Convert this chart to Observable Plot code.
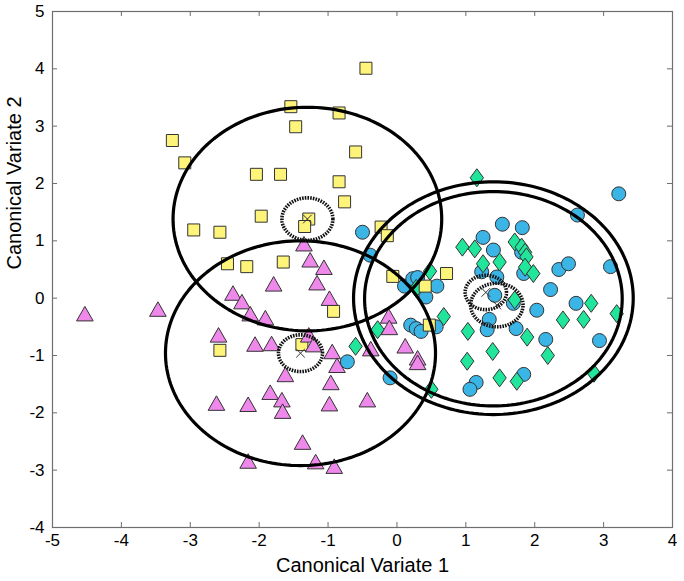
<!DOCTYPE html>
<html><head><meta charset="utf-8">
<script src="https://cdn.jsdelivr.net/npm/d3@7"></script>
<script src="https://cdn.jsdelivr.net/npm/@observablehq/plot@0.6"></script>
<style>body{margin:0;background:#fff}</style>
</head><body><div id="chart"></div>
<script>
// ---- data ----
const xTicks = [-5,-4,-3,-2,-1,0,1,2,3,4];
const yTicks = [-4,-3,-2,-1,0,1,2,3,4,5];
const xLabel = "Canonical Variate 1";
const yLabel = "Canonical Variate 2";

const squaresX = [-0.45,-1.54,-0.84,-1.47,-3.26,-3.08,-0.60,-2.04,-1.69,-0.84,-0.76,-1.97,-1.28,-1.34,-2.95,-2.57,-0.23,-0.14,-2.46,-2.18,-1.65,-2.57,-0.92,-0.06,0.41,0.72,0.47,-1.38];
const squaresY = [4.01,3.34,3.23,2.99,2.75,2.36,2.55,2.16,2.16,2.03,1.68,1.43,1.38,1.25,1.19,1.15,1.24,1.09,0.60,0.55,0.63,-0.91,-0.23,0.38,0.21,0.43,-0.47,-0.81];

const trianglesX = [-4.53,-3.47,-2.38,-2.25,-2.13,-1.79,-1.91,-2.59,-2.06,-1.82,-1.62,-1.84,-2.62,-2.16,-1.67,-1.66,-2.16,-1.35,-1.26,-1.06,-1.16,-0.98,-0.12,-0.11,-1.28,-1.21,-0.94,-0.38,0.12,0.30,0.30,-0.87,-0.96,-0.98,-0.43,-1.37,-1.18,-0.91];
const trianglesY = [-0.27,-0.19,0.09,-0.06,-0.27,0.25,-0.34,-0.64,-0.80,-0.79,-1.33,-1.64,-1.83,-1.85,-1.77,-1.97,-2.84,0.95,0.67,0.54,0.27,0.00,-0.31,-0.51,-0.64,-0.81,-0.93,-0.88,-0.83,-1.04,-1.12,-1.17,-1.47,-1.84,-1.77,-2.51,-2.85,-2.93];

const circlesX = [-0.50,-0.39,0.11,0.23,0.30,0.42,0.58,0.20,0.28,0.35,0.57,-0.72,-0.10,3.22,2.62,1.53,1.82,1.25,1.40,1.81,1.84,2.35,2.49,3.10,1.23,1.45,2.23,1.42,1.69,2.03,2.60,1.34,1.31,1.73,2.16,2.94,1.84,1.15,1.06];
const circlesY = [1.15,0.75,0.21,0.34,0.36,0.02,0.21,-0.47,-0.53,-0.58,-0.50,-1.11,-1.39,1.82,1.45,1.29,1.23,1.06,0.84,0.80,0.43,0.50,0.60,0.55,0.46,0.37,0.15,0.05,-0.09,-0.21,-0.09,-0.37,-0.55,-0.53,-0.72,-0.74,-1.33,-1.47,-1.59];

const diamondsX = [0.48,0.28,0.68,-0.28,-0.60,0.50,1.16,0.95,1.13,1.71,1.81,1.86,1.88,1.25,1.49,1.86,1.98,1.71,2.82,3.19,2.41,2.71,1.03,1.89,1.39,2.19,1.02,1.49,1.74,2.86];
const diamondsY = [0.47,0.17,-0.32,-0.55,-0.84,-1.59,2.10,0.89,0.86,0.98,0.89,0.80,0.72,0.60,0.63,0.54,0.43,-0.03,-0.09,-0.27,-0.38,-0.37,-0.58,-0.68,-0.93,-1.00,-1.10,-1.39,-1.45,-1.31];

// group means (x markers) and their dotted confidence circles
const meanX = [-1.30,-1.40,1.29,1.45];
const meanY = [1.38,-0.96,0.10,-0.12];
const meanR = [0.37,0.32,0.30,0.38];
// large solid circles
const bigX = [-1.30,-1.40,1.40,1.40];
const bigY = [1.38,-0.96,0.00,-0.01];
const bigR = [1.95,1.96,2.03,1.87];

// ---- build tables ----
const pts = (xs, ys) => xs.map((x,i)=>({x, y: ys[i]}));
const circlePath = (cx, cy, r, id) => d3.range(0, 361, 2).map(a => ({
  id, x: cx + r*Math.cos(a*Math.PI/180), y: cy + r*Math.sin(a*Math.PI/180)}));
const bigCircles = bigX.flatMap((cx,i)=>circlePath(cx, bigY[i], bigR[i], i));
const meanCircles = meanX.flatMap((cx,i)=>circlePath(cx, meanY[i], meanR[i], i));

// ---- marker shapes (MATLAB-like) ----
const sq = {draw(c, s){const r=Math.sqrt(s/Math.PI); c.rect(-r,-r,2*r,2*r);}};
const tri = {draw(c, s){const r=Math.sqrt(s/Math.PI); c.moveTo(0,-0.875*r); c.lineTo(r,0.875*r); c.lineTo(-r,0.875*r); c.closePath();}};
const dia = {draw(c, s){const r=Math.sqrt(s/Math.PI); c.moveTo(0,-r); c.lineTo(0.74*r,0); c.lineTo(0,r); c.lineTo(-0.74*r,0); c.closePath();}};

const W = 684, H = 581, mL = 52, mR = 12, mT = 11, mB = 54;
const innerW = W - mL - mR, innerH = H - mT - mB;
const fmt = d => (d < 0 ? "-" + (-d) : String(d));
const edge = "#6e6e6e";
const mk = {stroke:"#333", strokeWidth:1};

const chart = Plot.plot({
  width: W, height: H,
  marginLeft: mL, marginRight: mR, marginTop: mT, marginBottom: mB,
  style: {fontFamily: "'Liberation Sans', Arial, sans-serif", color: "#000", background: "#fff"},
  x: {domain: [-5, 4], nice: false},
  y: {domain: [-4, 5], nice: false},
  marks: [
    Plot.dot(pts(circlesX, circlesY), {x:"x", y:"y", r:7, fill:"#3bb4e6", ...mk}),
    Plot.dot(pts(diamondsX, diamondsY), {x:"x", y:"y", r:9, symbol: dia, fill:"#20e59b", ...mk}),
    Plot.dot(pts(squaresX, squaresY), {x:"x", y:"y", r:6, symbol: sq, fill:"#fff47a", ...mk}),
    Plot.dot(pts(trianglesX, trianglesY), {x:"x", y:"y", r:8.3, symbol: tri, fill:"#ee88ea", ...mk}),
    Plot.line(bigCircles, {x:"x", y:"y", z:"id", stroke:"#000", strokeWidth:3.2}),
    Plot.line(meanCircles, {x:"x", y:"y", z:"id", stroke:"#111", strokeWidth:3.6, strokeDasharray:"1.6,1.1", strokeLinecap:"butt", strokeLinejoin:"miter"}),
    Plot.dot(pts(meanX, meanY), {x:"x", y:"y", r:4, symbol:"times", stroke:"#333", strokeWidth:1}),
    Plot.frame({stroke: edge, strokeWidth: 1.2}),
    Plot.tickX(xTicks, {x: d=>d, insetTop: innerH-5, stroke: edge}),
    Plot.tickX(xTicks, {x: d=>d, insetBottom: innerH-5, stroke: edge}),
    Plot.tickY(yTicks, {y: d=>d, insetRight: innerW-5, stroke: edge}),
    Plot.tickY(yTicks, {y: d=>d, insetLeft: innerW-5, stroke: edge}),
    Plot.axisX({ticks: xTicks, tickSize: 0, tickPadding: 6, fontSize: 17, tickFormat: fmt, label: null}),
    Plot.axisY({ticks: yTicks, tickSize: 0, tickPadding: 8, fontSize: 17, tickFormat: fmt, label: null}),
    Plot.text([xLabel], {frameAnchor: "bottom", dy: 44, fontSize: 20, text: d=>d}),
    Plot.text([yLabel], {frameAnchor: "left", dx: -38, rotate: -90, fontSize: 20, text: d=>d})
  ]
});
document.getElementById("chart").appendChild(chart);
</script>
</body></html>
